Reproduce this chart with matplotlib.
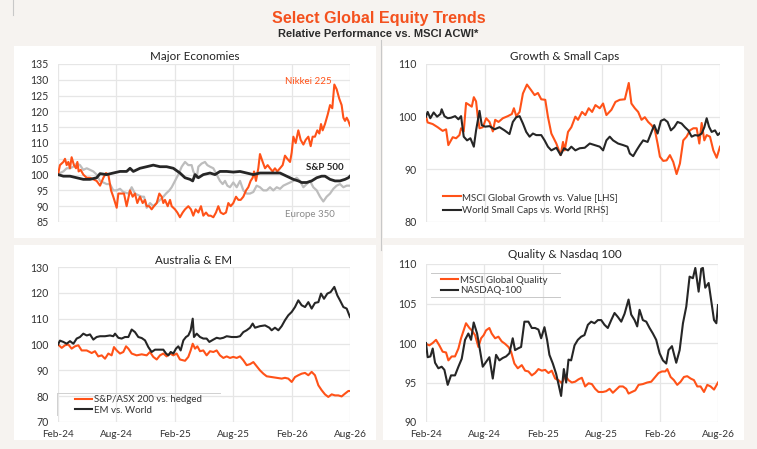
import matplotlib
matplotlib.use("Agg")
import matplotlib.pyplot as plt
from matplotlib.patches import Rectangle
from matplotlib.lines import Line2D

plt.rcParams['font.family'] = ['Lato', 'DejaVu Sans']

# ---------------- data (x = months since Feb-24) ----------------
xtick_pos = [0, 6, 12, 18, 24, 30]
xtick_labels = ["Feb-24", "Aug-24", "Feb-25", "Aug-25", "Feb-26", "Aug-26"]

# Major Economies
nikkei_t = [0.0, 0.2, 0.55, 0.72, 0.89, 1.06, 1.23, 1.40, 1.64, 1.85, 1.99, 2.12, 2.33, 2.60, 2.95, 3.29, 3.63, 3.97, 4.32, 4.66, 4.93, 5.17, 5.45, 5.68, 6.03, 6.20, 6.54, 6.78, 7.05, 7.40, 7.67, 7.91, 8.15, 8.42, 8.70, 8.94, 9.11, 9.38, 9.62, 9.86, 10.14, 10.41, 10.65, 10.82, 10.99, 11.27, 11.51, 11.68, 12.02, 12.26, 12.53, 12.81, 13.05, 13.39, 13.66, 13.90, 14.14, 14.42, 14.69, 14.93, 15.21, 15.45, 15.68, 15.96, 16.23, 16.47, 16.71, 16.99, 17.26, 17.50, 17.74, 18.01, 18.29, 18.53, 18.77, 19.04, 19.32, 19.55, 19.79, 20.00, 20.14, 20.34, 20.58, 20.75, 21.03, 21.27, 21.54, 21.78, 22.05, 22.29, 22.53, 22.81, 23.08, 23.32, 23.56, 23.84, 24.01, 24.18, 24.42, 24.69, 24.93, 25.21, 25.45, 25.72, 25.96, 26.16, 26.40, 26.64, 26.85, 27.02, 27.19, 27.43, 27.71, 27.95, 28.18, 28.39, 28.63, 28.90, 29.14, 29.32, 29.49, 29.66, 29.83, 30.0]
nikkei_v = [100, 103, 104, 105, 103, 104, 102, 105.5, 103, 102, 104, 101, 101.5, 100, 99, 99, 98.5, 98, 96.5, 99, 100.5, 100, 95, 93, 89.5, 94, 94, 94, 90, 95, 93, 94, 91, 93, 91, 92, 90, 90, 89, 90, 91, 94, 93, 91, 92, 90, 92, 90, 89, 88, 86.5, 88, 89, 90, 89, 87, 89, 88, 90, 87, 88, 87, 87, 86.5, 88, 90, 88, 87.5, 88, 91, 90, 91, 93, 92, 92, 93, 95, 96, 98, 99, 101, 98, 102, 106.5, 104, 102, 103, 102, 101, 102, 101, 102, 103, 106, 105, 104, 107, 112, 110, 114, 111, 109.5, 111, 112, 109, 112, 112, 114, 113, 116, 114, 116, 119, 122, 121, 128.5, 127, 124, 122, 118, 117, 118, 117, 115.5]

sp500_t = [0, 0.55, 1.23, 1.92, 2.60, 3.29, 3.97, 4.32, 5.0, 5.68, 6.37, 7.05, 7.40, 7.74, 8.42, 9.11, 9.79, 10.48, 11.16, 11.85, 12.53, 13.05, 13.56, 13.84, 14.08, 14.42, 14.93, 15.62, 16.13, 16.64, 17.33, 18.01, 18.70, 19.38, 20.07, 20.75, 21.44, 22.12, 22.81, 23.49, 24.18, 24.69, 25.03, 25.55, 26.06, 26.58, 27.09, 27.43, 27.95, 28.46, 28.97, 29.49, 29.83, 30]
sp500_v = [100, 99.5, 99.5, 99, 98.5, 98.5, 99, 100.3, 100, 100.5, 101, 101, 102, 101, 102, 102.5, 103, 102.5, 102.5, 102, 100.5, 99, 98.5, 98, 100, 99, 100, 100.5, 100, 101, 101, 100.8, 101, 100.5, 100, 100.5, 100.5, 100.5, 100.5, 99.5, 98.5, 98, 97.5, 97.5, 98, 99, 99.5, 99.5, 98.5, 98, 98, 98.5, 99, 99.5]

europe_t = [0, 0.2, 0.55, 0.89, 1.23, 1.58, 1.92, 2.26, 2.60, 2.95, 3.29, 3.63, 3.97, 4.32, 4.66, 5.0, 5.34, 5.68, 6.03, 6.37, 6.71, 7.23, 7.57, 7.91, 8.25, 8.60, 8.84, 9.11, 9.45, 9.79, 10.14, 10.48, 10.82, 11.10, 11.44, 11.68, 12.02, 12.36, 12.71, 13.05, 13.39, 13.73, 13.90, 14.25, 14.42, 14.76, 15.10, 15.34, 15.62, 15.96, 16.30, 16.64, 16.92, 17.16, 17.40, 17.67, 18.01, 18.36, 18.70, 19.04, 19.38, 19.73, 20.07, 20.41, 20.75, 21.10, 21.44, 21.78, 22.12, 22.47, 22.81, 23.15, 23.49, 23.84, 24.18, 24.52, 24.86, 25.21, 25.55, 25.89, 26.23, 26.58, 26.92, 27.26, 27.60, 27.95, 28.29, 28.63, 28.97, 29.32, 29.66, 30]
europe_v = [100, 100.5, 101, 102, 102, 102.5, 103.5, 103, 101.5, 102, 101.5, 101, 100, 98, 97.5, 97, 97, 95, 95, 95.5, 94.5, 94, 96, 94, 93.5, 93, 93, 89.5, 91, 90, 91, 92, 93, 94, 95, 96, 98, 100, 102.5, 104, 103, 103, 101, 99, 102.5, 103.5, 104, 103, 102.5, 102, 100, 98, 97, 98, 96.5, 96, 97.5, 96, 98, 95, 94, 94, 94.5, 96.5, 96, 95, 95, 96, 95, 96, 95.5, 96.5, 97, 97.5, 98, 99, 98, 96, 97, 98, 96, 95, 93, 91.5, 93, 94, 95.5, 96.5, 97, 96, 96.5, 96.5]

# Growth & Small Caps
growth_t = [0, 0.17, 0.68, 1.19, 1.70, 2.05, 2.28, 2.73, 3.07, 3.41, 3.58, 3.85, 4.09, 4.43, 4.67, 4.88, 5.11, 5.28, 5.46, 5.80, 6.14, 6.48, 6.82, 7.06, 7.40, 7.84, 8.35, 8.76, 8.97, 9.21, 9.55, 9.89, 10.30, 10.74, 11.08, 11.42, 11.76, 12.17, 12.44, 12.79, 13.30, 13.74, 13.98, 14.15, 14.49, 14.83, 15.24, 15.51, 15.92, 16.26, 16.60, 16.95, 17.29, 17.73, 18.07, 18.41, 18.92, 19.33, 19.77, 20.29, 20.69, 20.96, 21.31, 21.65, 21.99, 22.33, 22.67, 23.01, 23.36, 23.63, 23.87, 24.21, 24.55, 24.89, 25.23, 25.57, 25.91, 26.25, 26.59, 26.93, 27.28, 27.62, 27.89, 28.13, 28.40, 28.64, 28.98, 29.32, 29.66, 30]
growth_v = [100, 98.9, 98.6, 98, 97.3, 97.6, 94.6, 96.1, 95.9, 96.5, 97.8, 97.2, 102.6, 102.2, 101.9, 103.7, 102.9, 100, 97.8, 98, 99.7, 99, 97.2, 99.4, 99, 99.7, 100.1, 100.5, 101.6, 100.1, 100.9, 104.4, 106.1, 105, 104.1, 104.5, 103.3, 103.2, 100, 96.8, 94.9, 92.7, 95.2, 93.6, 97.1, 98, 100, 99.4, 100.9, 100.3, 101.6, 100.9, 102.2, 101.6, 102.5, 100.3, 101.3, 102.8, 103.2, 103.3, 106.4, 102.5, 101.6, 100.9, 99.4, 99.9, 99, 98.4, 97.4, 94.9, 92.4, 91.6, 91.7, 92.7, 91.4, 89.1, 91.1, 95.5, 96.2, 97.4, 97.8, 97.8, 94.9, 98.8, 95.5, 96.5, 96.2, 93.6, 92.2, 94.3]

smallcap_t = [0, 0.17, 0.44, 0.78, 1.13, 1.47, 1.60, 1.88, 2.22, 2.56, 2.97, 3.31, 3.58, 3.85, 4.19, 4.53, 4.88, 5.11, 5.46, 5.69, 6.03, 6.48, 6.99, 7.50, 8.01, 8.52, 8.86, 9.21, 9.55, 9.89, 10.23, 10.57, 10.91, 11.25, 11.76, 12.10, 12.44, 12.79, 13.30, 13.74, 14.08, 14.49, 14.83, 15.24, 15.68, 16.20, 16.71, 17.22, 17.73, 18.07, 18.41, 18.75, 19.09, 19.60, 20.12, 20.56, 20.80, 21.14, 21.48, 21.82, 22.16, 22.61, 22.95, 23.29, 23.63, 23.97, 24.31, 24.65, 24.99, 25.33, 25.67, 26.08, 26.42, 26.76, 27.11, 27.45, 27.79, 28.13, 28.40, 28.64, 28.88, 29.15, 29.49, 29.77, 30]
smallcap_v = [100, 100.9, 99.7, 100.8, 100, 100.5, 101.4, 100.1, 99.7, 99.8, 100.1, 99.5, 100.1, 96.2, 95.5, 95.9, 94.3, 97.4, 101.1, 98.4, 98.1, 98.2, 97.6, 98, 97.4, 96.7, 99, 99.9, 100.1, 98.7, 97.1, 96.2, 96.8, 96.5, 96.5, 95.5, 94.3, 93.6, 94.1, 92.7, 94, 93.6, 94.3, 93.6, 94, 94.1, 94.9, 94.6, 94.3, 93.6, 95.5, 96.2, 95.5, 94.9, 94.6, 94.3, 93, 92.5, 93.6, 94.6, 95.5, 95.2, 96.8, 98.4, 96.8, 99.2, 99.5, 99, 97.4, 98, 99, 98.7, 98, 97.4, 96.2, 96.5, 96.4, 96.8, 98, 99.7, 98.1, 97.1, 97.4, 96.5, 96.9]

# Australia & EM
asx_t = [0, 0.38, 0.72, 1.06, 1.40, 1.75, 2.09, 2.43, 2.95, 3.46, 3.80, 4.14, 4.49, 4.83, 5.17, 5.51, 5.75, 6.03, 6.37, 6.71, 6.99, 7.23, 7.57, 8.08, 8.60, 9.11, 9.45, 9.79, 10.14, 10.48, 10.82, 11.16, 11.51, 11.85, 12.19, 12.53, 13.05, 13.39, 13.63, 13.84, 14.08, 14.32, 14.59, 14.93, 15.27, 15.62, 15.96, 16.30, 16.64, 16.99, 17.33, 17.67, 18.01, 18.36, 18.70, 19.04, 19.38, 19.73, 20.07, 20.41, 20.75, 21.10, 21.44, 21.95, 22.47, 22.98, 23.32, 23.66, 24.01, 24.35, 24.69, 25.03, 25.38, 25.72, 26.06, 26.40, 26.75, 27.09, 27.43, 27.77, 28.12, 28.46, 28.80, 29.14, 29.49, 29.83, 30]
asx_v = [100, 98.7, 99.7, 100, 98.4, 99.3, 99.7, 97.7, 97.7, 96.7, 97.4, 95.4, 95.8, 94.5, 96.5, 95.8, 99, 97.7, 96.5, 97.1, 99.3, 98.4, 96.5, 95.8, 96.2, 95.8, 97.1, 95.2, 94.2, 95.8, 96.5, 95.4, 96.5, 95.8, 96.5, 94.2, 93.7, 95.2, 97.7, 100.3, 98.4, 99.3, 97.4, 97.7, 95.8, 97.4, 97.1, 97.7, 95.8, 94.8, 95.4, 94.8, 95.2, 94.8, 95.4, 93.9, 92, 92.4, 93.2, 91.6, 90, 88.7, 87.7, 87.4, 87.1, 86.8, 87.1, 86.8, 85.5, 87.4, 88.1, 88.7, 89, 88.1, 89.4, 88.1, 84.2, 82.3, 80.7, 79.7, 80.7, 80.3, 80.3, 79.9, 81, 82, 82]

em_t = [0, 0.2, 0.55, 0.89, 1.23, 1.58, 1.92, 2.26, 2.60, 2.95, 3.29, 3.63, 3.97, 4.32, 4.83, 5.34, 5.68, 5.86, 6.20, 6.54, 6.88, 7.23, 7.57, 7.91, 8.25, 8.60, 8.94, 9.28, 9.62, 9.97, 10.31, 10.82, 11.10, 11.34, 11.58, 11.85, 12.12, 12.36, 12.60, 12.88, 13.15, 13.39, 13.63, 13.84, 13.97, 14.25, 14.59, 14.93, 15.27, 15.55, 15.96, 16.30, 16.64, 16.99, 17.33, 17.84, 18.36, 18.70, 19.04, 19.38, 19.73, 20.00, 20.24, 20.75, 21.27, 21.71, 21.95, 22.29, 22.64, 22.98, 23.32, 23.66, 24.01, 24.35, 24.69, 25.03, 25.38, 25.72, 26.06, 26.40, 26.75, 27.02, 27.33, 27.67, 28.01, 28.39, 28.70, 28.97, 29.32, 29.66, 30]
em_v = [100, 101.5, 101, 100.3, 101.3, 100.3, 102.3, 102.9, 104.2, 103.5, 103.9, 101.9, 102.9, 103.2, 103.2, 103.5, 103.2, 104.2, 102.6, 102.3, 102.9, 102.9, 105.8, 104.8, 102.9, 102.5, 101.6, 99, 97.1, 98, 98, 98, 96.5, 95.8, 97.1, 96.5, 98.4, 99.3, 97.7, 101.6, 102.9, 103.5, 105.5, 110, 102.9, 104.2, 102.9, 102.3, 102.3, 101, 101.9, 102.6, 102.3, 102.6, 103.2, 102.9, 102.9, 103.2, 104.8, 105.5, 106.5, 108.1, 106.5, 107.1, 107.4, 106.5, 105.5, 106.5, 105.5, 107.1, 109.4, 111.3, 112.6, 114.5, 117.1, 115.2, 114.5, 116.4, 113.9, 116.1, 116.4, 119.7, 117.7, 119.7, 120.3, 122.3, 119, 117.1, 114.5, 113.9, 110.6]

# Quality & Nasdaq 100
quality_t = [0, 0.34, 0.69, 1.03, 1.37, 1.71, 2.06, 2.30, 2.64, 2.98, 3.33, 3.60, 3.87, 4.11, 4.46, 4.70, 5.04, 5.38, 5.66, 5.93, 6.17, 6.51, 6.75, 7.10, 7.44, 7.78, 8.12, 8.47, 8.74, 9.08, 9.43, 9.84, 10.18, 10.52, 10.87, 11.21, 11.55, 11.90, 12.24, 12.58, 12.92, 13.27, 13.61, 13.95, 14.30, 14.64, 14.98, 15.32, 15.67, 16.01, 16.35, 16.70, 17.04, 17.38, 17.72, 18.17, 18.51, 18.86, 19.20, 19.54, 19.88, 20.23, 20.57, 20.81, 21.15, 21.50, 21.84, 22.28, 22.73, 23.14, 23.55, 23.89, 24.24, 24.58, 24.79, 25.13, 25.47, 25.81, 26.16, 26.50, 26.84, 27.19, 27.53, 27.87, 28.21, 28.56, 28.90, 29.24, 29.59, 30]
quality_v = [99.9, 99.7, 100, 100.4, 99.7, 98.9, 98.8, 97.8, 98.3, 98.3, 99.3, 100.6, 101.6, 102.5, 101.9, 101.6, 101, 99.5, 100.6, 101, 101.6, 101.9, 101.2, 100.6, 100.8, 100.2, 99.9, 99.5, 98.9, 97.4, 96.8, 97.2, 96.5, 96.4, 95.9, 96.2, 96.7, 96.5, 96.6, 96.2, 96.5, 95.5, 95.3, 94.9, 95.9, 95.3, 95, 95.1, 95.4, 95.6, 94.5, 94.9, 94.8, 94.2, 93.8, 93.8, 93.9, 94.2, 93.7, 94.1, 94.5, 94.5, 94.2, 93.6, 93.8, 94, 94.7, 94.8, 95, 95.1, 95.7, 96.2, 96.4, 96.4, 96.7, 95.7, 95.3, 94.7, 95.1, 95.7, 95.8, 95.5, 95.3, 94.5, 94.5, 93.8, 94.7, 94.5, 94.1, 95]

nasdaq_t = [0, 0.17, 0.45, 0.69, 0.93, 1.27, 1.61, 1.89, 2.23, 2.57, 2.98, 3.33, 3.67, 4.01, 4.35, 4.63, 4.90, 5.25, 5.49, 5.83, 6.17, 6.51, 6.86, 7.20, 7.54, 7.88, 8.23, 8.57, 8.91, 9.15, 9.43, 9.77, 10.11, 10.52, 10.87, 11.21, 11.55, 11.83, 12.17, 12.44, 12.68, 13.03, 13.37, 13.61, 13.88, 14.16, 14.40, 14.64, 14.91, 15.26, 15.60, 15.94, 16.28, 16.63, 16.97, 17.31, 17.66, 18.00, 18.34, 18.68, 19.03, 19.37, 19.71, 20.06, 20.40, 20.81, 21.08, 21.43, 21.70, 21.94, 22.28, 22.63, 22.97, 23.31, 23.65, 24.00, 24.34, 24.68, 24.92, 25.27, 25.54, 25.71, 26.06, 26.40, 26.74, 27.08, 27.42, 27.67, 28.01, 28.28, 28.45, 28.69, 29.04, 29.31, 29.59, 29.83, 30]
nasdaq_v = [100, 98.2, 98.3, 99.3, 97.5, 96.8, 97, 96.6, 94.7, 95.9, 95.9, 97, 98, 100.4, 101.2, 100.4, 102.6, 101.2, 99.5, 97, 97.6, 98.2, 95.5, 98.5, 97.8, 98.1, 98.3, 98.7, 100.6, 99.1, 99.3, 99.5, 102.7, 102.7, 101.9, 101.9, 101.7, 100.6, 102, 100.4, 98.5, 97.4, 96.1, 94.8, 93.3, 96.7, 95, 97.9, 97.8, 99.7, 100.4, 100.8, 101, 102.3, 102.7, 102.5, 102.9, 102.9, 102.3, 101.9, 102.9, 103.8, 103.3, 102.7, 103.7, 105.5, 103.6, 102.9, 102.1, 104.2, 102.9, 102.7, 101.9, 101.2, 100.4, 98.7, 97.8, 97.4, 99.1, 99.6, 98.3, 97.5, 99.1, 102.5, 104.6, 108.4, 108.2, 109.5, 106.5, 109.4, 109.5, 107, 107.6, 105.3, 102.9, 102.5, 104.8]

# ---------------- styling ----------------
W, H = 757, 449
BG = "#F6F3F0"
ORANGE = "#FF5218"
BLACK = "#262626"
GRAY = "#BDBDBD"
GRID = "#E6E6E6"
TXT = "#333333"

fig = plt.figure(figsize=(W / 100, H / 100), dpi=100, facecolor=BG)

def fx(x):
    return x / W

def fy(y):
    return 1 - y / H

# white panels
for (x0, y0, x1, y1) in [(14, 46, 376, 238), (383, 46, 744, 238),
                         (14, 245, 376, 440), (383, 245, 744, 440)]:
    fig.patches.append(Rectangle((fx(x0), fy(y1)), (x1 - x0) / W, (y1 - y0) / H,
                                 transform=fig.transFigure, facecolor="white",
                                 edgecolor="none", zorder=-10))

# thin separator lines
fig.add_artist(Line2D([fx(13), fx(13)], [fy(0), fy(15)], color="#C8C8C8", lw=0.8, zorder=-5))
fig.add_artist(Line2D([fx(381), fx(381)], [fy(40), fy(250)], color="#C8C8C8", lw=0.8, zorder=-5))

# titles
fig.text(0.5, fy(19), "Select Global Equity Trends", ha="center", va="center",
         fontsize=11.6, fontweight="bold", color="#F4511E", family=["Liberation Sans", "DejaVu Sans"])
fig.text(0.5, fy(34), "Relative Performance vs. MSCI ACWI*", ha="center", va="center",
         fontsize=8, fontweight="bold", color="#2B2B2B", family=["Liberation Sans", "DejaVu Sans"])


def make_ax(x0, y0, x1, y1, ylim, yticks, xlabels):
    ax = fig.add_axes([fx(x0), fy(y1), (x1 - x0) / W, (y1 - y0) / H])
    ax.set_facecolor("none")
    ax.set_xlim(0, 30)
    ax.set_ylim(*ylim)
    ax.set_yticks(yticks)
    ax.set_xticks(xtick_pos)
    if xlabels:
        ax.set_xticklabels(xtick_labels)
    else:
        ax.set_xticklabels([])
    for s in ax.spines.values():
        s.set_visible(False)
    ax.grid(True, color=GRID, lw=0.9)
    ax.set_axisbelow(True)
    ax.tick_params(length=0, colors=TXT)
    ax.tick_params(axis="y", labelsize=7.6, pad=7)
    ax.tick_params(axis="x", labelsize=7.2, pad=6)
    return ax


# Panel 1: Major Economies
ax1 = make_ax(58, 64, 350, 222, (85, 135), range(85, 136, 5), False)
ax1.plot(europe_t, europe_v, color=GRAY, lw=1.6)
ax1.plot(nikkei_t, nikkei_v, color=ORANGE, lw=1.5)
ax1.plot(sp500_t, sp500_v, color=BLACK, lw=2.0)
ax1.text(25.7, 129.4, "Nikkei 225", color=ORANGE, fontsize=7, ha="center", va="center")
ax1.text(27.4, 102.2, "S&P 500", color=BLACK, fontsize=7, fontweight="bold", ha="center", va="center")
ax1.text(25.9, 87.4, "Europe 350", color="#8A8A8A", fontsize=7, ha="center", va="center")
fig.text(fx(195), fy(56), "Major Economies", ha="center", va="center", fontsize=8.4, color="#222222")

# Panel 2: Growth & Small Caps
ax2 = make_ax(426, 64, 720, 222, (80, 110), range(80, 111, 10), False)
ax2.plot(growth_t, growth_v, color=ORANGE, lw=1.5, label="MSCI Global Growth vs. Value [LHS]")
ax2.plot(smallcap_t, smallcap_v, color=BLACK, lw=1.5, label="World Small Caps vs. World [RHS]")
ax2.legend(loc="center left", bbox_to_anchor=(0.058, 0.114), frameon=False, fontsize=7,
           handlelength=1.8, handletextpad=0.15, labelspacing=0.45, borderpad=0,
           borderaxespad=0, labelcolor=TXT)
fig.text(fx(565), fy(56), "Growth & Small Caps", ha="center", va="center", fontsize=8.4, color="#222222")

# Panel 3: Australia & EM
ax3 = make_ax(58, 267, 350, 422, (70, 130), range(70, 131, 10), True)
ax3.plot(asx_t, asx_v, color=ORANGE, lw=1.5, label="S&P/ASX 200 vs. hedged")
ax3.plot(em_t, em_v, color=BLACK, lw=1.5, label="EM vs. World")
ax3.legend(loc="center left", bbox_to_anchor=(0.058, 0.11), frameon=False, fontsize=7,
           handlelength=1.8, handletextpad=0.15, labelspacing=0.15, borderpad=0,
           borderaxespad=0, labelcolor=TXT)
fig.add_artist(Line2D([fx(57), fx(220)], [fy(393), fy(393)], color="#D0D0D0", lw=0.7))
fig.add_artist(Line2D([fx(57), fx(57)], [fy(393), fy(415)], color="#D0D0D0", lw=0.7))
fig.text(fx(194), fy(261), "Australia & EM", ha="center", va="center", fontsize=8.4, color="#222222")

# Panel 4: Quality & Nasdaq 100
ax4 = make_ax(426, 264, 718, 422, (90, 110), range(90, 111, 5), True)
ax4.plot(quality_t, quality_v, color=ORANGE, lw=1.5, label="MSCI Global Quality")
ax4.plot(nasdaq_t, nasdaq_v, color=BLACK, lw=1.5, label="NASDAQ-100")
ax4.legend(loc="center left", bbox_to_anchor=(0.051, 0.864), frameon=False, fontsize=7,
           handlelength=1.8, handletextpad=0.15, labelspacing=0.15, borderpad=0,
           borderaxespad=0, labelcolor=TXT)
fig.add_artist(Line2D([fx(431), fx(560)], [fy(273), fy(273)], color="#C8C8C8", lw=0.7))
fig.add_artist(Line2D([fx(431), fx(560)], [fy(297), fy(297)], color="#C8C8C8", lw=0.7))
fig.text(fx(565), fy(255), "Quality & Nasdaq 100", ha="center", va="center", fontsize=8.4, color="#222222")

fig.savefig("out.png", dpi=100, facecolor=BG)
